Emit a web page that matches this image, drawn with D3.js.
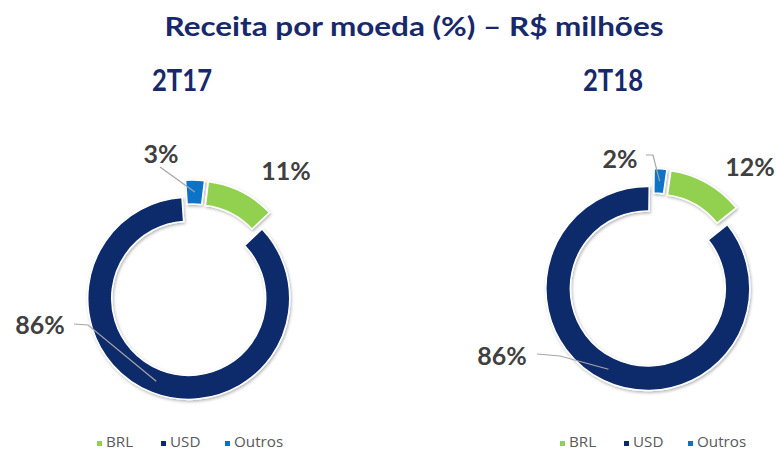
<!DOCTYPE html>
<html>
<head>
<meta charset="utf-8">
<script src="https://cdn.jsdelivr.net/npm/d3@7"></script>
<style>
  body { margin: 0; background: #fff; }
  svg { display: block; }
</style>
</head>
<body>
<div id="container"></div>
<script>
// data
let titleText = "Receita por moeda (%) \u2013 R$ milh\u00f5es";
let categories = ["BRL", "USD", "Outros"];
let periods = ["2T17", "2T18"];
let values2T17 = [11, 86, 3];
let values2T18 = [12, 86, 2];
let colors = ["#92d050", "#0b2a6b", "#0a73c6"];
//

let width = 776;
let height = 451;
let navy = "#17296b";
let labelColor = "#404040";
let leaderColor = "#a6a6a6";

// layout of each doughnut (center, radii, explosion, rotation, labels)
let charts = [
    { period: periods[0], values: values2T17, cx: 192, cy: 290, R: 101, r: 77, explode: 9, rot: 7,
      headX: 182,
      labels: [
        { x: 286, y: 180, anchor: "middle", leader: null },                        // BRL
        { x: 40, y: 334, anchor: "middle", leader: [[74, 324], [88, 325]] },       // USD
        { x: 161, y: 163, anchor: "middle", leader: [[160, 167]] }                 // Outros
      ],
      legendX: 97 },
    { period: periods[1], values: values2T18, cx: 652, cy: 280, R: 102, r: 77.5, explode: 9.5, rot: 8,
      headX: 613,
      labels: [
        { x: 750, y: 176, anchor: "middle", leader: null },
        { x: 502, y: 365, anchor: "middle", leader: [[537, 354], [560, 356]] },
        { x: 620, y: 168, anchor: "middle", leader: [[646, 155], [653, 155]] }
      ],
      legendX: 560 }
];

let svg = d3.select("#container").append("svg")
    .attr("width", width)
    .attr("height", height);

let defs = svg.append("defs");
let filter = defs.append("filter").attr("id", "shadow")
    .attr("x", "-20%").attr("y", "-20%").attr("width", "140%").attr("height", "140%");
filter.append("feDropShadow")
    .attr("dx", 1).attr("dy", 1.5).attr("stdDeviation", 1.5)
    .attr("flood-color", "#000").attr("flood-opacity", 0.3);

// title
let title = svg.append("text")
    .attr("x", 414).attr("y", 36)
    .attr("text-anchor", "middle")
    .style("font-family", "Lato, 'Open Sans', sans-serif")
    .style("font-weight", 700)
    .style("font-size", "27px")
    .attr("fill", navy)
    .text(titleText);
title.attr("textLength", 499).attr("lengthAdjust", "spacingAndGlyphs");

let deg = Math.PI / 180;

charts.forEach(function(c) {
    let g = svg.append("g");

    g.append("text")
        .attr("x", c.headX).attr("y", 91)
        .attr("text-anchor", "middle")
        .style("font-family", "Lato, 'Open Sans', sans-serif")
        .style("font-weight", 700)
        .style("font-size", "30px")
        .attr("fill", navy)
        .attr("textLength", 60).attr("lengthAdjust", "spacingAndGlyphs")
        .text(c.period);

    let pie = d3.pie().sort(null)
        .startAngle(c.rot * deg)
        .endAngle((c.rot + 360) * deg);
    let arcs = pie(c.values);

    let arc = d3.arc().innerRadius(c.r).outerRadius(c.R);
    let mid = d => (d.startAngle + d.endAngle) / 2;
    let shift = d => [c.explode * Math.sin(mid(d)), -c.explode * Math.cos(mid(d))];

    g.append("g")
        .attr("transform", "translate(" + c.cx + "," + c.cy + ")")
        .attr("filter", "url(#shadow)")
        .selectAll("path")
        .data(arcs)
        .enter().append("path")
        .attr("transform", d => "translate(" + shift(d) + ")")
        .attr("d", arc)
        .attr("fill", (d, i) => colors[i])
        .attr("stroke", "#fff")
        .attr("stroke-width", 1.5);

    // leader lines end in the slice centroid
    arcs.forEach(function(d, i) {
        let lab = c.labels[i];
        if (!lab.leader) return;
        let s = shift(d);
        let cen = arc.centroid(d);
        let pts = lab.leader.concat([[c.cx + s[0] + cen[0], c.cy + s[1] + cen[1]]]);
        g.append("path")
            .attr("d", d3.line()(pts))
            .attr("fill", "none")
            .attr("stroke", leaderColor)
            .attr("stroke-width", 1.2);
    });

    g.selectAll("text.lbl")
        .data(arcs)
        .enter().append("text")
        .attr("class", "lbl")
        .attr("x", (d, i) => c.labels[i].x)
        .attr("y", (d, i) => c.labels[i].y)
        .attr("text-anchor", (d, i) => c.labels[i].anchor)
        .style("font-family", "Lato, 'Open Sans', sans-serif")
        .style("font-weight", 700)
        .style("font-size", "25px")
        .attr("fill", labelColor)
        .text(d => d.data + "%");

    // legend
    let leg = g.append("g").attr("transform", "translate(" + c.legendX + ",440)");
    let offs = [0, 64, 128];
    categories.forEach(function(cat, i) {
        let item = leg.append("g").attr("transform", "translate(" + offs[i] + ",0)");
        item.append("rect")
            .attr("x", 0).attr("y", 1)
            .attr("width", 5).attr("height", 5)
            .attr("fill", colors[i]);
        item.append("text")
            .attr("x", 9).attr("y", 6.5)
            .style("font-family", "'Open Sans', sans-serif")
            .style("font-size", "15.2px")
            .attr("fill", "#595959")
            .text(cat);
    });
});
</script>
</body>
</html>
